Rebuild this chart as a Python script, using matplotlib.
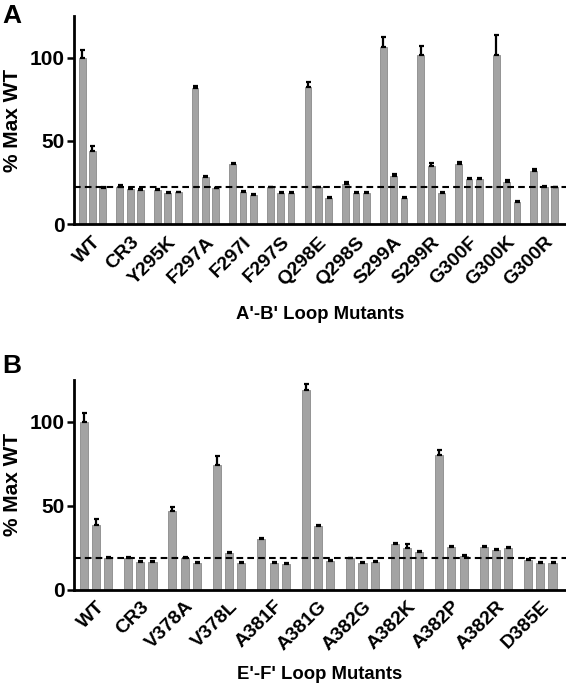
import numpy as np
import matplotlib
matplotlib.use("Agg")
import matplotlib.pyplot as plt

plt.rcParams['font.family'] = ['Liberation Sans', 'DejaVu Sans']
plt.rcParams['font.weight'] = 'bold'

# ---- Data ----
a_labels = ['WT', 'CR3', 'Y295K', 'F297A', 'F297I', 'F297S', 'Q298E', 'Q298S',
            'S299A', 'S299R', 'G300F', 'G300K', 'G300R']
a_vals = [[100, 43.6, 21.5], [22, 21, 20.5], [20.5, 18.7, 19], [81.7, 28, 21.5],
          [36, 19.5, 17.5], [22, 18.5, 18.5], [82.3, 22, 15.6], [24, 18.7, 18.7],
          [106.2, 29, 15.8], [101.8, 35, 18.9], [36, 27, 27], [101.8, 25.5, 13.5],
          [32, 22.5, 22]]
a_errs = [[4.5, 3.5, 0.5], [1.5, 0.5, 0.5], [0.8, 0.5, 0.5], [1.3, 0.6, 0.4],
          [0.6, 0.5, 0.5], [0.5, 0.5, 0.5], [3, 0.3, 0.5], [1.2, 0.5, 0.5],
          [6, 1, 0.5], [5, 1.5, 0.5], [1.5, 0.7, 0.7], [11.6, 0.8, 0.5],
          [0.8, 0.5, 0.5]]
a_threshold = 22
a_xlabel = "A'-B' Loop Mutants"

b_labels = ['WT', 'CR3', 'V378A', 'V378L', 'A381F', 'A381G', 'A382G', 'A382K',
            'A382P', 'A382R', 'D385E']
b_vals = [[100, 38.7, 19], [19, 16.7, 16.7], [46.7, 19, 16], [74, 21.5, 16],
          [30, 16, 15.1], [119, 37.7, 17.3], [18.5, 16, 16.5], [26.9, 24.9, 22.3],
          [80, 25.3, 20.1], [25.3, 23.3, 24.5], [17.7, 16, 16]]
b_errs = [[5.2, 3.3, 0.3], [0.5, 0.3, 0.3], [2.6, 0.3, 0.3], [5.4, 0.7, 0.5],
          [0.6, 0.5, 0.5], [3.6, 0.8, 0.5], [0.5, 0.3, 0.3], [0.7, 2, 0.8],
          [3.2, 0.7, 0.5], [0.6, 0.8, 0.8], [0.5, 0.5, 0.5]]
b_threshold = 19
b_xlabel = "E'-F' Loop Mutants"

yticks = [0, 50, 100]

W, H = 566, 689
fig = plt.figure(figsize=(W / 100, H / 100), dpi=100)

GROUP = 3.63
BARW = 0.66
BAR_COLOR = '#a3a3a3'
EDGE = '#8a8a8a'


def panel(rect, labels, vals, errs, thr, xlabel, letter, letter_xy, xpad, lpad):
    ax = fig.add_axes(rect)
    vals = np.array(vals, dtype=float)
    errs = np.array(errs, dtype=float)
    n = len(labels)
    for j in range(3):
        x = np.arange(n) * GROUP + j
        ax.bar(x, vals[:, j], width=BARW, color=BAR_COLOR, edgecolor=EDGE,
               linewidth=0.6, zorder=2)
        ax.errorbar(x, vals[:, j], yerr=[np.zeros(n), errs[:, j]], fmt='none',
                    ecolor='black', elinewidth=1.6, capsize=1.8, capthick=1.6,
                    zorder=3)
    xmax = (n - 1) * GROUP + 3.1
    ax.set_xlim(-0.78, xmax)
    ax.set_ylim(0, 125)
    ax.axhline(thr, color='black', linestyle=(0, (3.2, 2.0)), linewidth=1.5,
               zorder=4)
    ax.set_yticks(yticks)
    ax.set_yticklabels([str(t) for t in yticks], fontsize=15, fontweight='bold')
    ax.set_xticks(np.arange(n) * GROUP + 1)
    ax.set_xticklabels(labels, rotation=45, ha='right', rotation_mode='anchor',
                       fontsize=14, fontweight='bold')
    ax.tick_params(axis='x', length=0, pad=xpad)
    ax.tick_params(axis='y', length=5, width=1.8, direction='out', pad=2)
    for s in ['top', 'right']:
        ax.spines[s].set_visible(False)
    for s in ['left', 'bottom']:
        ax.spines[s].set_linewidth(2.0)
    ax.set_ylabel('% Max WT', fontsize=15, fontweight='bold', labelpad=5)
    ax.set_xlabel(xlabel, fontsize=13.3, fontweight='bold', labelpad=lpad)
    fig.text(letter_xy[0], letter_xy[1], letter, fontsize=19, fontweight='bold',
             ha='left', va='top')
    return ax


panel([74 / W, (H - 224) / H, 492 / W, 208 / H], a_labels, a_vals, a_errs,
      a_threshold, a_xlabel, 'A', (2 / W, 1 - 4 / H), 7, 12)
panel([74 / W, (H - 589.5) / H, 492 / W, 209.5 / H], b_labels, b_vals, b_errs,
      b_threshold, b_xlabel, 'B', (2 / W, 1 - 354 / H), 6, 9)

fig.savefig('out.png', dpi=100)
